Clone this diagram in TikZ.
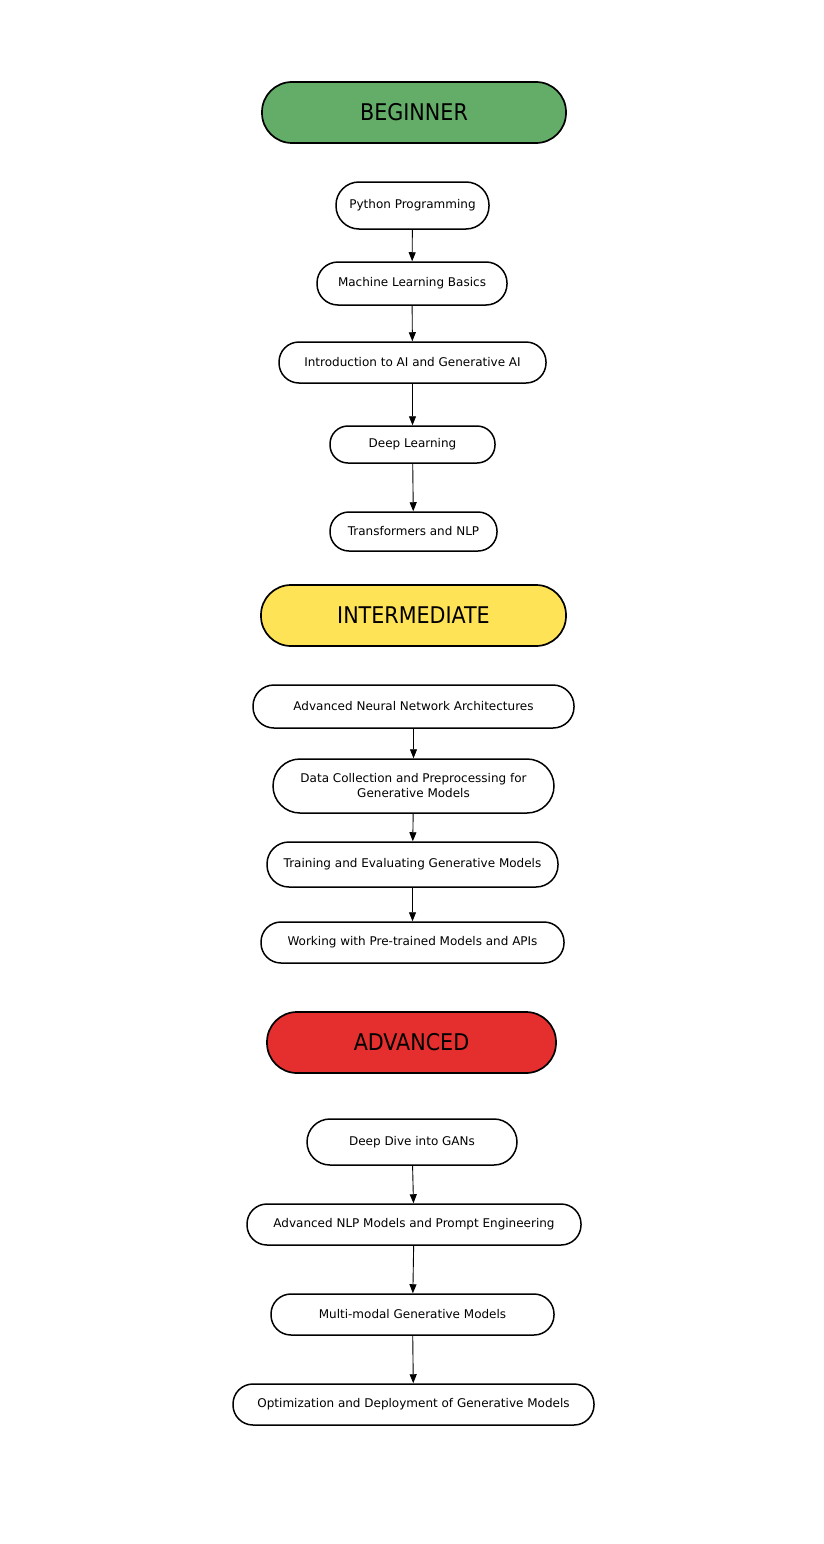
\documentclass[tikz,border=0pt]{standalone}
\usepackage{fontspec}
\setmainfont{DejaVu Sans}
\newfontfamily\kopffont{DejaVu Sans Condensed}
\usetikzlibrary{arrows.meta}
\definecolor{stufegruen}{RGB}{99,173,104}
\definecolor{stufegelb}{RGB}{255,227,87}
\definecolor{stuferot}{RGB}{229,46,46}
\tikzset{
  kopf/.style={draw, line width=1.7pt, inner sep=0pt, minimum height=61pt,
    rounded corners=30pt, font=\kopffont\fontsize{23}{26}\selectfont},
  thema/.style={draw, line width=1.5pt, fill=white, inner sep=0pt, align=center,
    font=\fontsize{12}{15}\selectfont},
  pfeil/.style={line width=0.9pt, -{Triangle[length=9pt,width=7pt]}}
}
\begin{document}
\begin{tikzpicture}[x=1pt,y=-1pt]
        \useasboundingbox (0,0) rectangle (823,1544);

        % Stufe Beginner
        \node[kopf, fill=stufegruen, minimum width=304pt] (beginner) at (414,112.5) {BEGINNER};
        \node[thema, minimum width=153pt, minimum height=47pt, rounded corners=23pt] (python) at (412.5,205.5) {Python Programming};
        \node[thema, minimum width=190pt, minimum height=43pt, rounded corners=21pt] (mlbasics) at (412,283.5) {Machine Learning Basics};
        \node[thema, minimum width=267pt, minimum height=41pt, rounded corners=20pt] (intro) at (412.5,362.5) {Introduction to AI and Generative AI};
        \node[thema, minimum width=165pt, minimum height=37pt, rounded corners=18pt] (deep) at (412.5,444.5) {Deep Learning};
        \node[thema, minimum width=167pt, minimum height=39pt, rounded corners=19pt] (trafo) at (413.5,531.5) {Transformers and NLP};
        \draw[pfeil] (python) -- (mlbasics);
        \draw[pfeil] (mlbasics) -- (intro);
        \draw[pfeil] (intro) -- (deep);
        \draw[pfeil] (deep) -- (trafo);

        % Stufe Intermediate
        \node[kopf, fill=stufegelb, minimum width=305pt] (intermediate) at (413.5,615.5) {INTERMEDIATE};
        \node[thema, minimum width=321pt, minimum height=43pt, rounded corners=21pt] (netze) at (413.5,706.5) {Advanced Neural Network Architectures};
        \node[thema, minimum width=281pt, minimum height=54pt, rounded corners=27pt] (daten) at (413.5,786) {Data Collection and Preprocessing for\\Generative Models};
        \node[thema, minimum width=291pt, minimum height=45pt, rounded corners=22pt] (training) at (412.5,864.5) {Training and Evaluating Generative Models};
        \node[thema, minimum width=303pt, minimum height=41pt, rounded corners=20pt] (apis) at (412.5,942.5) {Working with Pre-trained Models and APIs};
        \draw[pfeil] (netze) -- (daten);
        \draw[pfeil] (daten) -- (training);
        \draw[pfeil] (training) -- (apis);

        % Stufe Advanced
        \node[kopf, fill=stuferot, minimum width=289pt] (advanced) at (411.5,1042.5) {ADVANCED};
        \node[thema, minimum width=210pt, minimum height=46pt, rounded corners=23pt] (gans) at (412,1142) {Deep Dive into GANs};
        \node[thema, minimum width=334pt, minimum height=41pt, rounded corners=20pt] (prompt) at (414,1224.5) {Advanced NLP Models and Prompt Engineering};
        \node[thema, minimum width=283pt, minimum height=41pt, rounded corners=20pt] (multi) at (412.5,1314.5) {Multi-modal Generative Models};
        \node[thema, minimum width=361pt, minimum height=41pt, rounded corners=20pt] (deploy) at (413.5,1404.5) {Optimization and Deployment of Generative Models};
        \draw[pfeil] (gans) -- (prompt);
        \draw[pfeil] (prompt) -- (multi);
        \draw[pfeil] (multi) -- (deploy);

\end{tikzpicture}
\end{document}
